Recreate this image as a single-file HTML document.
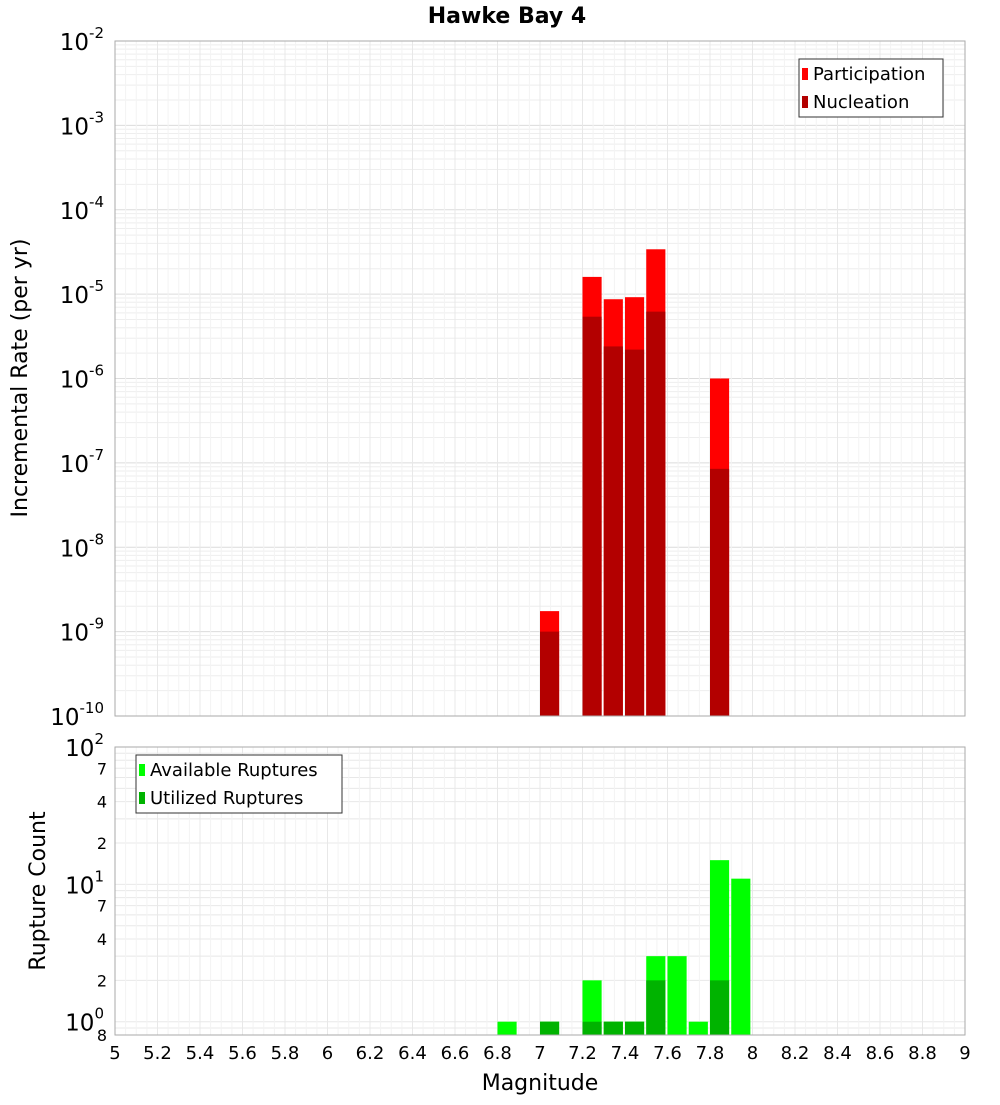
<!DOCTYPE html>
<html><head><meta charset="utf-8"><style>
body{margin:0;background:#fff;width:1000px;height:1100px;overflow:hidden;font-family:"Liberation Sans",sans-serif}
svg text{font-family:"DejaVu Sans","Liberation Sans",sans-serif}
</style></head><body>
<svg id="c" width="1000" height="1100" xmlns="http://www.w3.org/2000/svg"></svg>
<script>
const bins=[6.85,7.05,7.25,7.35,7.45,7.55,7.65,7.75,7.85,7.95];
const participation=[0,1.75e-9,1.6e-5,8.7e-6,9.2e-6,3.4e-5,0,0,1.0e-6,0];
const nucleation=[0,1.0e-9,5.4e-6,2.4e-6,2.2e-6,6.2e-6,0,0,8.5e-8,0];
const available=[1,1,2,1,1,3,3,1,15,11];
const utilized=[0,1,1,1,1,2,0,0,2,0];
const xTicks=[5,5.2,5.4,5.6,5.8,6,6.2,6.4,6.6,6.8,7,7.2,7.4,7.6,7.8,8,8.2,8.4,8.6,8.8,9];
const topExp=[-2,-3,-4,-5,-6,-7,-8,-9,-10];
const botMajor=[2,1,0];
const botMinor=[7,4,2];

const svg=document.getElementById('c');const NS='http://www.w3.org/2000/svg';
function el(t,a,p){const e=document.createElementNS(NS,t);for(const k in a)e.setAttribute(k,a[k]);(p||svg).appendChild(e);return e;}
const X0=115,X1=965;
const x=m=>X0+(m-5)/4*(X1-X0);
const T0=41,T1=716;const yT=v=>T0+(-2-Math.log10(v))/8*(T1-T0);
const B0=747,B1=1035;const yB=v=>B0+(2-Math.log10(v))/(2-Math.log10(0.8))*(B1-B0);

let t=el('text',{x:507,y:23,'text-anchor':'middle','font-size':22,'font-weight':'bold'});t.textContent='Hawke Bay 4';


const gT=el('g',{});
for(let d=-10;d<-2;d++)for(let k=1;k<10;k++){const yy=yT(k*Math.pow(10,d));el('line',{x1:X0,x2:X1,y1:yy,y2:yy,stroke:k==1?'#dcdcdc':'#eeeeee','stroke-width':1},gT);}
const gB=el('g',{});
for(let d=-1;d<2;d++)for(let k=1;k<10;k++){const v=k*Math.pow(10,d);if(v<0.8)continue;const yy=yB(v);el('line',{x1:X0,x2:X1,y1:yy,y2:yy,stroke:'#e8e8e8','stroke-width':1},gB);}
xTicks.forEach(m=>{el('line',{x1:x(m),x2:x(m),y1:T0,y2:T1,stroke:'#e8e8e8'},gT);el('line',{x1:x(m),x2:x(m),y1:B0,y2:B1,stroke:'#e8e8e8'},gB);
 for(let j=1;j<4;j++){const mm=m+j*0.05;if(mm<9){el('line',{x1:x(mm),x2:x(mm),y1:T0,y2:T1,stroke:'#f3f3f3'},gT);el('line',{x1:x(mm),x2:x(mm),y1:B0,y2:B1,stroke:'#f3f3f3'},gB);}}});

const bw=x(5.09)-x(5);
bins.forEach((m,i)=>{
 if(participation[i]>0){const r=el('rect',{x:x(m-0.05),y:yT(participation[i]),width:bw,height:T1-yT(participation[i]),fill:'#ff0000'});
 }
 if(nucleation[i]>0){const r=el('rect',{x:x(m-0.05),y:yT(nucleation[i]),width:bw,height:T1-yT(nucleation[i]),fill:'#b30000'});
 }
 if(available[i]>0){const r=el('rect',{x:x(m-0.05),y:yB(available[i]),width:bw,height:B1-yB(available[i]),fill:'#00ff00'});
 }
 if(utilized[i]>0){const r=el('rect',{x:x(m-0.05),y:yB(utilized[i]),width:bw,height:B1-yB(utilized[i]),fill:'#00b300'});
 }
});
el('rect',{x:X0,y:T0,width:X1-X0,height:T1-T0,fill:'none',stroke:'#aaa'});
el('rect',{x:X0,y:B0,width:X1-X0,height:B1-B0,fill:'none',stroke:'#aaa'});

topExp.forEach(e=>{const yy=yT(Math.pow(10,e));const g=el('text',{x:104,y:yy+9,'text-anchor':'end','font-size':23});
 g.innerHTML='10<tspan dy="-12" font-size="15">'+e+'</tspan>';});
botMajor.forEach(e=>{const yy=yB(Math.pow(10,e));const g=el('text',{x:104,y:yy+9,'text-anchor':'end','font-size':23});
 g.innerHTML='10<tspan dy="-12" font-size="15">'+e+'</tspan>';});
[1,0].forEach(e=>botMinor.forEach(k=>{const yy=yB(k*Math.pow(10,e));const g=el('text',{x:107,y:yy+6,'text-anchor':'end','font-size':16});g.textContent=k;
 }));
t=el('text',{x:107,y:1041,'text-anchor':'end','font-size':16});t.textContent='8';
xTicks.forEach(m=>{const g=el('text',{x:x(m),y:1059,'text-anchor':'middle','font-size':18});g.textContent=String(m);
 });
t=el('text',{x:540,y:1090,'text-anchor':'middle','font-size':22});t.textContent='Magnitude';
t=el('text',{x:27,y:378,'text-anchor':'middle','font-size':22,transform:'rotate(-90 27 378)'});t.textContent='Incremental Rate (per yr)';
t=el('text',{x:45,y:891,'text-anchor':'middle','font-size':22,transform:'rotate(-90 45 891)'});t.textContent='Rupture Count';

function legend(x0,y0,w,items,name){const g=el('g',{});
 el('rect',{x:x0,y:y0,width:w,height:58,fill:'#fff',stroke:'#333'},g);
 items.forEach((it,i)=>{el('rect',{x:x0+3,y:y0+9+i*28,width:6,height:12,fill:it[1]},g);const tt=el('text',{x:x0+14,y:y0+21+i*28,'font-size':18},g);tt.textContent=it[0];});}
legend(799,59,144,[['Participation','#ff0000'],['Nucleation','#b30000']],'top-legend');
legend(136,755,206,[['Available Ruptures','#00ff00'],['Utilized Ruptures','#00b300']],'bottom-legend');
</script>
</body></html>
